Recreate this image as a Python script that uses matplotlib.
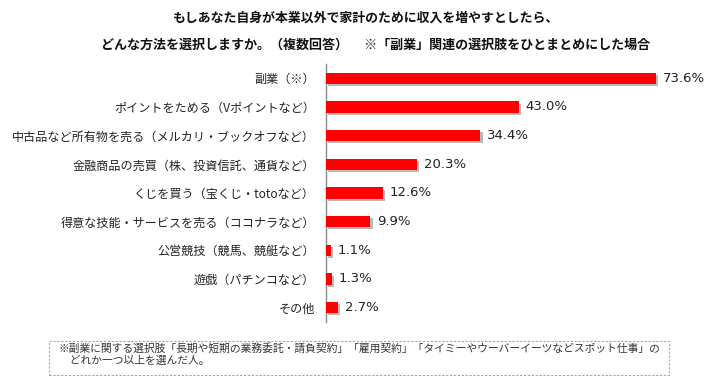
import matplotlib
matplotlib.use('Agg')
import matplotlib.pyplot as plt
import matplotlib.patheffects as pe
from matplotlib.patches import Rectangle

plt.rcParams['font.family'] = ['Noto Sans CJK JP', 'DejaVu Sans']

categories = [
    '副業（※）',
    'ポイントをためる（Vポイントなど）',
    '中古品など所有物を売る（メルカリ・ブックオフなど）',
    '金融商品の売買（株、投資信託、通貨など）',
    'くじを買う（宝くじ・totoなど）',
    '得意な技能・サービスを売る（ココナラなど）',
    '公営競技（競馬、競艇など）',
    '遊戯（パチンコなど）',
    'その他',
]
values = [73.6, 43.0, 34.4, 20.3, 12.6, 9.9, 1.1, 1.3, 2.7]

title_1 = 'もしあなた自身が本業以外で家計のために収入を増やすとしたら、'
title_2 = 'どんな方法を選択しますか。（複数回答）　 ※「副業」関連の選択肢をひとまとめにした場合'
note = ('※副業に関する選択肢「長期や短期の業務委託・請負契約」「雇用契約」「タイミーやウーバーイーツなどスポット仕事」の\n'
        '　どれか一つ以上を選んだ人。')

W, H = 712, 382
fig = plt.figure(figsize=(W / 100, H / 100), dpi=100)
fig.patch.set_facecolor('white')

# axes placed in pixel terms
ax_left, ax_top, ax_bottom = 326, 64, 322
px_per_pct = 4.485
xmax = 85
ax = fig.add_axes([ax_left / W, 1 - ax_bottom / H,
                   xmax * px_per_pct / W, (ax_bottom - ax_top) / H])

y = list(range(len(categories)))
bars = ax.barh(y, values, height=0.39, color='#ff0000', zorder=3)
for b in bars:
    b.set_path_effects([pe.SimplePatchShadow(offset=(1.6, -1.6), shadow_rgbFace='#808080', alpha=0.55),
                        pe.Normal()])

for yi, v in zip(y, values):
    ax.text(v + 1.55, yi, f'{v:.1f}%', va='center', ha='left',
            fontsize=9.5, family='DejaVu Sans', color='#222222')

ax.set_xlim(0, xmax)
ax.set_ylim(len(categories) - 0.5, -0.5)
ax.set_yticks(y)
ax.set_yticklabels(categories, fontsize=8.7, color='#222222')
ax.tick_params(axis='y', length=0, pad=8)
ax.set_xticks([])
for s in ['top', 'right', 'bottom']:
    ax.spines[s].set_visible(False)
ax.spines['left'].set_color('#8c8c8c')
ax.spines['left'].set_linewidth(1.0)

fig.text(366 / W, 1 - 18 / H, title_1, ha='center', va='center',
         fontsize=9.3, fontweight='bold', color='#111111')
fig.text(376 / W, 1 - 45 / H, title_2, ha='center', va='center',
         fontsize=9.4, fontweight='bold', color='#111111')

# footnote box
box = Rectangle((49 / W, 1 - 375 / H), (669 - 49) / W, (375 - 341) / H,
                transform=fig.transFigure, fill=False, edgecolor='#a6a6a6',
                linestyle=(0, (2, 1.5)), linewidth=0.8)
fig.patches.append(box)
fig.text(59 / W, 1 - 343 / H, note, ha='left', va='top', fontsize=7.75,
         color='#333333', linespacing=1.2)

fig.savefig('out.png', dpi=100)
